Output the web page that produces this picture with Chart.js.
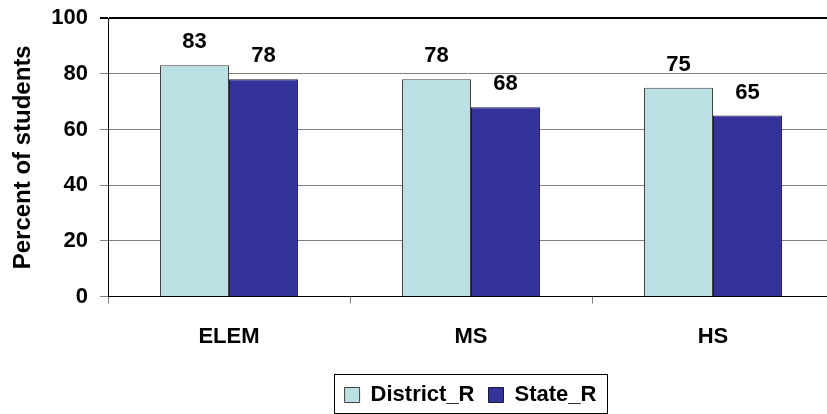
<!DOCTYPE html>
<html>
<head>
<meta charset="utf-8">
<script src="https://cdn.jsdelivr.net/npm/chart.js@4/dist/chart.umd.min.js"></script>
<style>
  html, body { margin: 0; padding: 0; background: #fff; }
  #wrap { width: 827px; height: 414px; }
</style>
</head>
<body>
<div id="wrap"><canvas id="bars" width="827" height="414"></canvas></div>
<script>
// values
const categories = ['ELEM', 'MS', 'HS']
const districtR = [83, 78, 75]
const stateR = [78, 68, 65]
const yTicks = [0, 20, 40, 60, 80, 100]

const FONT = '"Liberation Sans", Arial, sans-serif'

// numbers above the bars
const valueLabels = {
  id: 'valueLabels',
  afterDatasetsDraw(chart) {
    const ctx = chart.ctx
    ctx.save()
    ctx.font = 'bold 22px ' + FONT
    ctx.fillStyle = '#000'
    ctx.textAlign = 'center'
    ctx.textBaseline = 'alphabetic'
    chart.data.datasets.forEach((ds, i) => {
      chart.getDatasetMeta(i).data.forEach((bar, j) => {
        ctx.fillText(String(ds.data[j]), bar.x, bar.y - 17)
      })
    })
    ctx.restore()
  },
}

// the original plot runs a bit past the right edge of the picture
const widenPlot = {
  id: 'widenPlot',
  afterLayout(chart) {
    const extra = 7
    const x = chart.scales.x
    x.right += extra
    x.width += extra
    x.configure()
    chart.chartArea.right += extra
    chart.chartArea.width += extra
  },
}

// legend shifted right a little and boxed, like the original
const legendBox = {
  id: 'legendBox',
  afterLayout(chart) {
    const lg = chart.legend
    lg.left += 57
    lg.right += 57
  },
  afterDraw(chart) {
    const boxes = chart.legend.legendHitBoxes
    if (!boxes || !boxes.length) return
    let l = Infinity, r = -Infinity, t = Infinity, b = -Infinity
    boxes.forEach(h => {
      l = Math.min(l, h.left); r = Math.max(r, h.left + h.width)
      t = Math.min(t, h.top); b = Math.max(b, h.top + h.height)
    })
    const cy = Math.round((t + b) / 2)
    const ctx = chart.ctx
    ctx.save()
    ctx.strokeStyle = '#000'
    ctx.lineWidth = 1
    ctx.strokeRect(Math.round(l - 11) + 0.5, cy - 21 + 0.5, Math.round(r - l + 21), 39)
    ctx.restore()
  },
}

const barConfig = {
  type: 'bar',
  data: {
    labels: categories,
    datasets: [
      {
        label: 'District_R',
        backgroundColor: '#BBE0E3',
        borderColor: '#404040',
        borderWidth: 1,
        data: districtR,
      },
      {
        label: 'State_R',
        backgroundColor: '#333399',
        borderColor: '#1a1a40',
        borderWidth: 1,
        data: stateR,
      },
    ],
  },
  options: {
    responsive: false,
    animation: false,
    devicePixelRatio: 1,
    categoryPercentage: 0.57,
    barPercentage: 1,
    layout: {
      padding: { top: 18, right: 0, bottom: -2, left: 0 },
    },
    plugins: {
      tooltip: { enabled: false },
      legend: {
        position: 'bottom',
        labels: {
          color: '#000',
          font: { family: FONT, size: 22, weight: 'bold' },
          boxWidth: 15,
          boxHeight: 15,
          padding: 14,
        },
      },
    },
    scales: {
      x: {
        afterFit(scale) {
          scale.paddingLeft = 0
          scale.paddingRight = 0
        },
        grid: {
          drawOnChartArea: false,
          drawTicks: true,
          tickLength: 7,
          color: '#808080',
        },
        border: { color: '#000', width: 1 },
        ticks: {
          color: '#000',
          padding: 20,
          font: { family: FONT, size: 22, weight: 'bold' },
        },
      },
      y: {
        min: 0,
        max: 100,
        afterBuildTicks(scale) {
          scale.ticks = yTicks.map(v => ({ value: v }))
        },
        afterFit(scale) {
          scale.width = 108
          scale.paddingTop = 0
          scale.paddingBottom = 0
        },
        grid: {
          color: c => (c.tick && c.tick.value === 100 ? '#000' : '#808080'),
          lineWidth: c => (c.tick && c.tick.value === 100 ? 2 : 1),
          tickLength: 8,
        },
        border: { color: '#000', width: 1 },
        ticks: {
          color: '#000',
          padding: 12,
          font: { family: FONT, size: 22, weight: 'bold' },
        },
        title: {
          display: true,
          text: 'Percent of students',
          color: '#000',
          padding: { top: 9, bottom: 0 },
          font: { family: FONT, size: 24, weight: 'bold' },
        },
      },
    },
  },
  plugins: [widenPlot, valueLabels, legendBox],
}

const barsCtx = document.getElementById('bars')
window.myBar = new Chart(barsCtx, barConfig)
</script>
</body>
</html>
